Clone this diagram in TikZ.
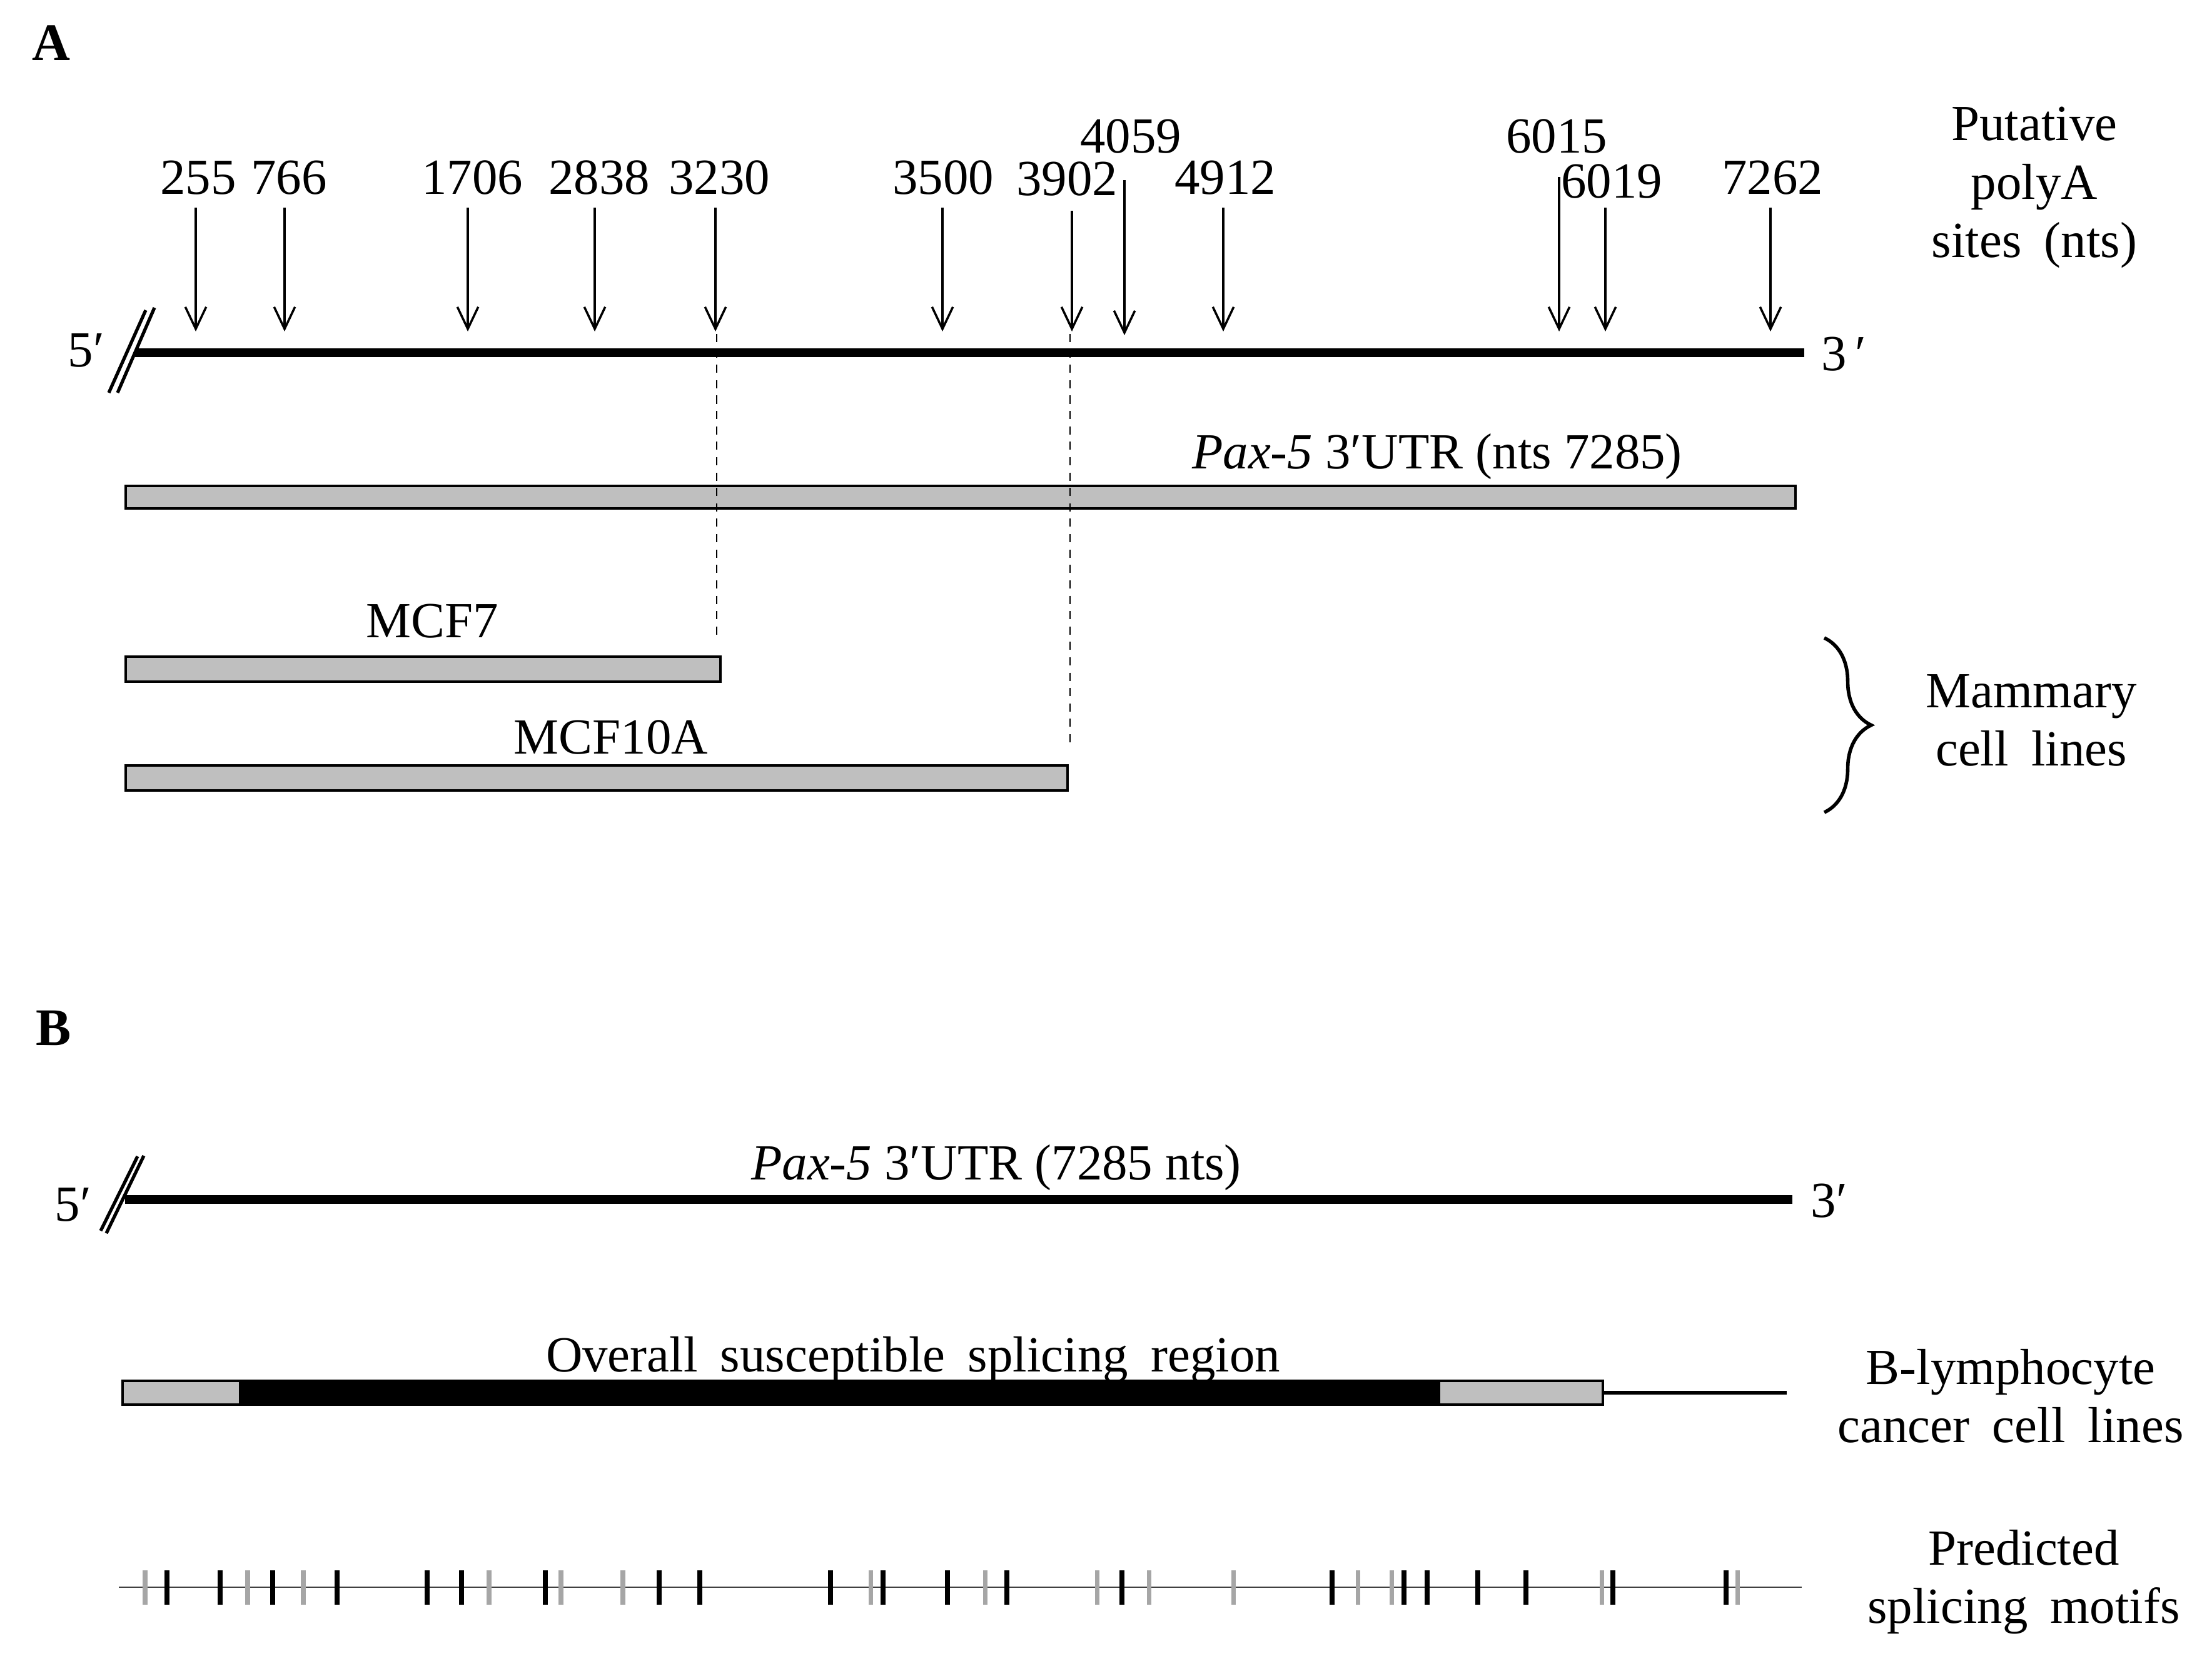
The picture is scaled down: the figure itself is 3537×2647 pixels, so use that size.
\documentclass[tikz,border=0pt]{standalone}
\usepackage{fontspec}
\setmainfont{Liberation Serif}
\usetikzlibrary{arrows.meta,decorations.pathreplacing}
\definecolor{barg}{RGB}{191,191,191}
\definecolor{tickg}{RGB}{166,166,166}
\newcommand{\wsp}{\hspace{0.45em}}
\begin{document}
\begin{tikzpicture}[x=0.01cm,y=-0.01cm,
  txt/.style={font=\fontsize{23}{26.5}\selectfont, inner sep=0pt, align=center},
  num/.style={txt, anchor=base},
  panel/.style={font=\fontsize{24}{28}\selectfont\bfseries, inner sep=0pt},
  arr/.style={line width=1pt, -{Straight Barb[length=10pt,width=9.5pt,line width=1pt]}},
  rna/.style={line width=4pt},
  slash/.style={line width=1.5pt},
  guide/.style={line width=0.7pt, dash pattern=on 3.7pt off 3.3pt},
  utrbar/.style={fill=barg, draw=black, line width=1pt},
  tickk/.style={line width=2.4pt, draw=black},
  tickgr/.style={line width=2pt, draw=tickg}]
\useasboundingbox (0,0) rectangle (3537,2647);

% ---------------- Panel A ----------------
\node[panel] (pA) at (82,69) {A};

% main RNA line
\coordinate (a5) at (216,564);
\coordinate (a3) at (2885,564);
\draw[rna] (a5) -- (a3);
\coordinate (sa1) at (174,628); \coordinate (sa2) at (233,496);
\coordinate (sb1) at (188,628); \coordinate (sb2) at (247,492);
\draw[slash] (sa1) -- (sa2);
\draw[slash] (sb1) -- (sb2);
\node[txt] (fiveA) at (138,560) {5′};
\node[txt] (threeA) at (2948,566) {3\,′};

% polyA arrows
\foreach \n/\x/\t/\h/\lx/\ly in {
  255/313/332/530/317/310, 766/455/332/530/462/310,
  1706/748/332/530/755/310, 2838/951/332/530/958/310,
  3230/1144/332/530/1150/310, 3500/1507/332/530/1508/310,
  3902/1714/337/530/1706/312, 4059/1798/288/536/1808/244,
  4912/1956/332/530/1959/310, 6015/2493/283/530/2489/244,
  6019/2567/332/530/2577/316, 7262/2831/332/530/2834/310}{
  \node[num] (l\n) at (\lx,\ly) {\n};
  \coordinate (s\n) at (\x,\t);
  \coordinate (e\n) at (\x,\h);
  \draw[arr] (s\n) -- (e\n);
}
\node[txt] (putative) at (3253,300) {Putative\\polyA\\sites\wsp(nts)};

% full length 3'UTR bar
\draw[utrbar] (201,777) rectangle (2871,813);
\node[num] (paxA) at (2298,749) {\textit{Pax-5} 3′UTR (nts 7285)};

% MCF7 / MCF10A bars
\draw[utrbar] (201,1050) rectangle (1152,1090);
\node[num] (mcf7) at (691,1019) {MCF7};
\draw[utrbar] (201,1224) rectangle (1707,1264);
\node[num] (mcf10a) at (977,1205) {MCF10A};

% dashed guides
\coordinate (d1t) at (1146,534); \coordinate (d1b) at (1146,1022);
\coordinate (d2t) at (1711,534); \coordinate (d2b) at (1711,1189);
\draw[guide] (d1t) -- (d1b);
\draw[guide] (d2t) -- (d2b);

% brace
\coordinate (br1) at (2917,1020); \coordinate (br2) at (2917,1299);
\draw[line width=1.6pt, decorate, decoration={brace, amplitude=0.75cm, aspect=0.5}] (br1) -- (br2);
\node[txt] (mammary) at (3248,1152) {Mammary\\cell\wsp lines};

% ---------------- Panel B ----------------
\node[panel] (pB) at (86,1644) {B};
\coordinate (b5) at (200,1918);
\coordinate (b3) at (2866,1918);
\draw[rna] (b5) -- (b3);
\coordinate (sc1) at (161,1968); \coordinate (sc2) at (220,1849);
\coordinate (sd1) at (170,1972); \coordinate (sd2) at (230,1848);
\draw[slash] (sc1) -- (sc2);
\draw[slash] (sd1) -- (sd2);
\node[txt] (fiveB) at (117,1926) {5′};
\node[txt] (threeB) at (2925,1920) {3′};
\node[num] (paxB) at (1593,1886) {\textit{Pax-5} 3′UTR (7285 nts)};

% susceptible splicing region bar
\draw[utrbar] (196,2208) rectangle (2563,2246);
\fill[black] (382,2208) rectangle (2303,2246);
\coordinate (tl1) at (2563,2227); \coordinate (tl2) at (2857,2227);
\draw[line width=1.7pt] (tl1) -- (tl2);
\node[num] (overall) at (1460,2193) {Overall\wsp susceptible\wsp splicing\wsp region};
\node[txt] (blymph) at (3215,2232) {B-lymphocyte\\cancer\wsp cell\wsp lines};

% predicted splicing motifs
\coordinate (m1) at (190,2538); \coordinate (m2) at (2881,2538);
\draw[line width=0.6pt, black!75] (m1) -- (m2);
\foreach \x in {232,396,485,782,897,996,1392,1575,1754,1837,1972,2171,2225,2561,2778}
  \draw[tickgr] (\x,2511) -- (\x,2566);
\foreach \x in {267,352,436,539,683,738,872,1054,1119,1328,1412,1515,1610,1794,2130,2245,2282,2363,2440,2579,2760}
  \draw[tickk] (\x,2511) -- (\x,2566);
\node[txt] (predicted) at (3236,2530) {Predicted\\splicing\wsp motifs};
\end{tikzpicture}
\end{document}
